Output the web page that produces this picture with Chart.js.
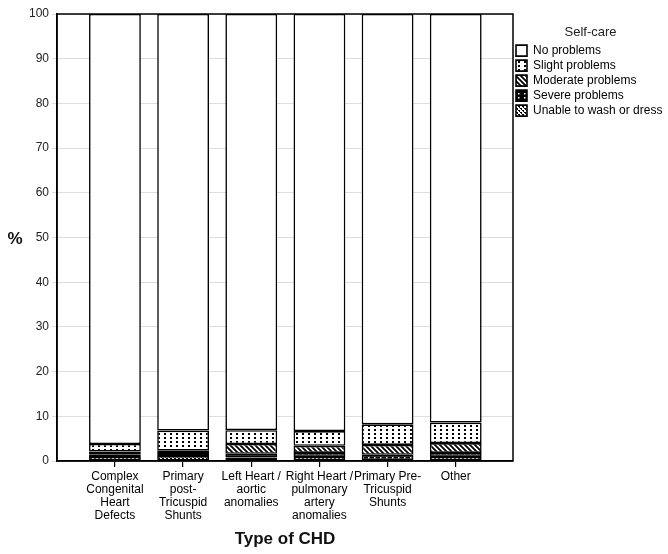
<!DOCTYPE html>
<html>
<head>
<meta charset="utf-8">
<script src="https://cdn.jsdelivr.net/npm/chart.js@4"></script>
<style>
  html, body { margin: 0; padding: 0; background: #fff; }
  #wrap { width: 668px; height: 554px; }
</style>
</head>
<body>
<div id="wrap"><canvas id="chdChart" width="668" height="554"></canvas></div>
<script>
// categories (multi-line tick labels)
const categories = [
  ['Complex', 'Congenital', 'Heart', 'Defects'],
  ['Primary', 'post-', 'Tricuspid', 'Shunts'],
  ['Left Heart /', 'aortic', 'anomalies'],
  ['Right Heart /', 'pulmonary', 'artery', 'anomalies'],
  ['Primary Pre-', 'Tricuspid', 'Shunts'],
  ['Other']
];

// percentages
const noProblems = [96.2, 93.2, 93.1, 93.3, 91.8, 91.4];
const slightProblems = [1.7, 4.5, 3.1, 3.3, 4.6, 4.6];
const moderateProblems = [0.6, 0.5, 2.2, 1.6, 2.2, 2.2];
const severeProblems = [0.6, 0.7, 0.8, 0.9, 1.2, 0.9];
const unableToWash = [0.9, 1.1, 0.8, 0.9, 0.2, 0.9];

const yTicks = [0, 10, 20, 30, 40, 50, 60, 70, 80, 90, 100];

const FONT = '"Liberation Sans", Arial, Helvetica, sans-serif';

document.addEventListener("DOMContentLoaded", () => {
  const canvas = document.getElementById('chdChart');
  const ctx = canvas.getContext('2d');

  // small tile patterns, black & white like the SPSS print
  function makePattern(w, h, draw) {
    const c = document.createElement('canvas');
    c.width = w; c.height = h;
    const g = c.getContext('2d');
    draw(g, w, h);
    return ctx.createPattern(c, 'repeat');
  }

  const slightFill = makePattern(6, 4, (g, w, h) => {
    g.fillStyle = '#fff'; g.fillRect(0, 0, w, h);
    g.fillStyle = '#000'; g.fillRect(2, 1, 2, 2);
  });
  const moderateFill = makePattern(5, 5, (g, w, h) => {
    g.fillStyle = '#fff'; g.fillRect(0, 0, w, h);
    g.strokeStyle = '#000'; g.lineWidth = 1.8;
    g.beginPath();
    g.moveTo(-1, -1); g.lineTo(w + 1, h + 1);
    g.moveTo(-1 - w, -1); g.lineTo(1, h + 1);
    g.moveTo(w - 1, -1); g.lineTo(2 * w + 1, h + 1);
    g.stroke();
  });
  const severeFill = makePattern(6, 4, (g, w, h) => {
    g.fillStyle = '#000'; g.fillRect(0, 0, w, h);
    g.fillStyle = '#fff'; g.fillRect(2, 1, 1.5, 1.5);
  });
  const unableFill = makePattern(4, 4, (g, w, h) => {
    g.fillStyle = '#fff'; g.fillRect(0, 0, w, h);
    g.fillStyle = '#000';
    g.fillRect(0, 0, 2, 1); g.fillRect(2, 2, 2, 1);
    g.fillRect(1, 1, 1, 1); g.fillRect(3, 3, 1, 1);
  });

  const toPoints = arr => arr.map((v, i) => ({ x: i, y: v }));

  const common = {
    borderColor: '#000',
    borderWidth: 1.6,
    borderSkipped: false,
    barPercentage: 0.76,
    categoryPercentage: 1
  };

  // first dataset sits at the bottom of the stack
  const datasets = [
    { label: 'Unable to wash or dress', data: toPoints(unableToWash), backgroundColor: unableFill, ...common },
    { label: 'Severe problems', data: toPoints(severeProblems), backgroundColor: severeFill, ...common },
    { label: 'Moderate problems', data: toPoints(moderateProblems), backgroundColor: moderateFill, ...common },
    { label: 'Slight problems', data: toPoints(slightProblems), backgroundColor: slightFill, ...common },
    { label: 'No problems', data: toPoints(noProblems), backgroundColor: '#fff', ...common }
  ];

  const framePlugin = {
    id: 'frame',
    afterDraw(chart) {
      const a = chart.chartArea;
      const c = chart.ctx;
      c.save();
      c.strokeStyle = '#000';
      c.lineWidth = 1.5;
      c.strokeRect(a.left, a.top, a.right - a.left, a.bottom - a.top);
      // the "%" axis title, kept upright
      c.fillStyle = '#111';
      c.font = 'bold 17px ' + FONT;
      c.textAlign = 'center';
      c.textBaseline = 'middle';
      c.fillText('%', 15, (a.top + a.bottom) / 2 + 2);
      c.restore();
    }
  };

  new Chart(ctx, {
    type: 'bar',
    data: { datasets: datasets },
    plugins: [framePlugin],
    options: {
      responsive: false,
      animation: false,
      layout: { padding: { left: 0, right: 0, top: 14, bottom: 0 } },
      plugins: {
        tooltip: { enabled: false },
        legend: {
          position: 'right',
          align: 'start',
          reverse: true,
          maxWidth: 155,
          title: {
            display: true,
            text: 'Self-care',
            color: '#222',
            font: { family: FONT, size: 13 },
            padding: { top: 12, bottom: 0 }
          },
          labels: {
            boxWidth: 11,
            boxHeight: 11,
            padding: 3,
            color: '#000',
            font: { family: FONT, size: 12 }
          }
        }
      },
      scales: {
        x: {
          type: 'linear',
          stacked: true,
          offset: false,
          min: -0.85,
          max: 5.84,
          afterBuildTicks: axis => { axis.ticks = categories.map((_, i) => ({ value: i })); },
          afterFit: axis => { axis.height = 93; },
          ticks: {
            autoSkip: false,
            maxRotation: 0,
            minRotation: 0,
            padding: 3,
            color: '#000',
            font: { family: FONT, size: 12, lineHeight: 1.08 },
            callback: v => categories[v]
          },
          grid: { offset: false, drawOnChartArea: false, color: '#000', tickLength: 6, lineWidth: 1.2 },
          border: { color: '#000', width: 1.5 },
          title: {
            display: true,
            text: 'Type of CHD',
            color: '#111',
            font: { family: FONT, size: 17, weight: 'bold' },
            padding: { top: 10 }
          }
        },
        y: {
          stacked: true,
          min: 0,
          max: 100,
          afterBuildTicks: axis => { axis.ticks = yTicks.map(v => ({ value: v })); },
          afterFit: axis => { axis.width = 57; },
          ticks: {
            color: '#222',
            padding: 3,
            font: { family: FONT, size: 12 }
          },
          grid: { color: '#dedede', lineWidth: 1, tickLength: 5 },
          border: { color: '#000', width: 1.5 }
        }
      }
    }
  });
});
</script>
</body>
</html>
